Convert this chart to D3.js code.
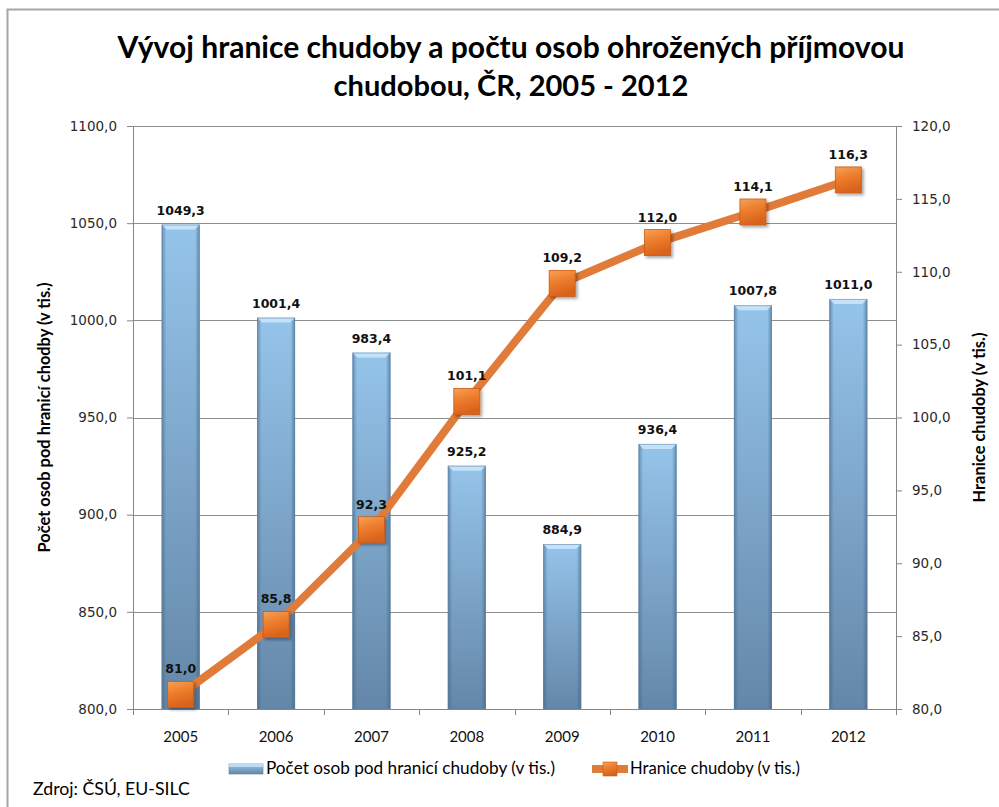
<!DOCTYPE html>
<html>
<head>
<meta charset="utf-8">
<script src="https://cdn.jsdelivr.net/npm/d3@7"></script>
<style>
  html, body { margin: 0; padding: 0; background: #fff; }
  svg { display: block; }
</style>
</head>
<body>
<svg id="chart" width="999" height="807"></svg>
<script>
// ---- data ----
const years = ["2005", "2006", "2007", "2008", "2009", "2010", "2011", "2012"];
const persons = [1049.3, 1001.4, 983.4, 925.2, 884.9, 936.4, 1007.8, 1011.0];
const threshold = [81.0, 85.8, 92.3, 101.1, 109.2, 112.0, 114.1, 116.3];
const leftTicks = [800, 850, 900, 950, 1000, 1050, 1100];
const rightTicks = [80, 85, 90, 95, 100, 105, 110, 115, 120];
const titleLines = ["Vývoj hranice chudoby a počtu osob ohrožených příjmovou", "chudobou, ČR, 2005 - 2012"];
const leftTitle = "Počet osob pod hranicí chodby (v tis.)";
const rightTitle = "Hranice chudoby (v tis.)";
const seriesNames = ["Počet osob pod hranicí chudoby (v tis.)", "Hranice chudoby (v tis.)"];
const sourceText = "Zdroj: ČSÚ, EU-SILC";

const fmt = v => d3.format(".1f")(v).replace(".", ",");

const svg = d3.select("#chart");
const W = 999, H = 807;
const plot = { left: 133, right: 896, top: 126, bottom: 709 };

const calibri = "Lato, 'Open Sans', sans-serif";
const tahoma = "'DejaVu Sans', Verdana, sans-serif";

function fit(sel, target) {
  const node = sel.node();
  const fs = parseFloat(sel.attr("font-size"));
  const w = node.getComputedTextLength();
  if (w > 0) sel.attr("font-size", (fs * target / w).toFixed(2));
  return sel;
}

// defs
const defs = svg.append("defs");
const barGrad = defs.append("linearGradient").attr("id", "barGrad").attr("x1", 0).attr("y1", 0).attr("x2", 0).attr("y2", 1);
barGrad.append("stop").attr("offset", "0%").attr("stop-color", "#95c4ea");
barGrad.append("stop").attr("offset", "100%").attr("stop-color", "#6487a8");
const barEdge = defs.append("linearGradient").attr("id", "barEdge").attr("x1", 0).attr("y1", 0).attr("x2", 1).attr("y2", 0);
barEdge.append("stop").attr("offset", "0%").attr("stop-color", "#3e5f80").attr("stop-opacity", 0.55);
barEdge.append("stop").attr("offset", "12%").attr("stop-color", "#3e5f80").attr("stop-opacity", 0.0);
barEdge.append("stop").attr("offset", "88%").attr("stop-color", "#3e5f80").attr("stop-opacity", 0.0);
barEdge.append("stop").attr("offset", "100%").attr("stop-color", "#3e5f80").attr("stop-opacity", 0.6);
const mkGrad = defs.append("linearGradient").attr("id", "mkGrad").attr("x1", 0).attr("y1", 0).attr("x2", 0.3).attr("y2", 1);
mkGrad.append("stop").attr("offset", "0%").attr("stop-color", "#f6a25a");
mkGrad.append("stop").attr("offset", "45%").attr("stop-color", "#ee7f2e");
mkGrad.append("stop").attr("offset", "100%").attr("stop-color", "#d9621b");
const shadow = defs.append("filter").attr("id", "shadow").attr("x", "-30%").attr("y", "-30%").attr("width", "170%").attr("height", "170%");
shadow.append("feDropShadow").attr("dx", 2).attr("dy", 2).attr("stdDeviation", 1.5).attr("flood-color", "#000").attr("flood-opacity", 0.35);

// outer chart border
svg.append("rect").attr("x", 7.5).attr("y", 9.5).attr("width", 1000).attr("height", 820)
  .attr("fill", "#fff").attr("stroke", "#a6a6a6").attr("stroke-width", 2);

// scales
const x = d3.scaleBand().domain(years).range([plot.left, plot.right]).paddingInner(0).paddingOuter(0);
const yL = d3.scaleLinear().domain([800, 1100]).range([plot.bottom, plot.top]);
const yR = d3.scaleLinear().domain([80, 120]).range([plot.bottom, plot.top]);

// gridlines
svg.append("g").selectAll("line").data(leftTicks.filter(t => t > 800)).join("line")
  .attr("x1", plot.left).attr("x2", plot.right)
  .attr("y1", d => Math.round(yL(d)) + 0.5).attr("y2", d => Math.round(yL(d)) + 0.5)
  .attr("stroke", "#8e8e8e").attr("stroke-width", 1);

// title
const title = svg.append("g");
titleLines.forEach((t, i) => {
  const tt = title.append("text").attr("x", 511).attr("y", 58 + i * 38)
    .attr("text-anchor", "middle").attr("font-family", calibri).attr("font-weight", "bold")
    .attr("font-size", 28).attr("fill", "#000").text(t);
  fit(tt, i === 0 ? 787 : 355);
});

// axes
const axisColor = "#868686";
const gL = svg.append("g").attr("transform", `translate(${plot.left},0)`)
  .call(d3.axisLeft(yL).tickValues(leftTicks).tickFormat(fmt).tickSizeOuter(0).tickSize(6).tickPadding(10));
const gR = svg.append("g").attr("transform", `translate(${plot.right},0)`)
  .call(d3.axisRight(yR).tickValues(rightTicks).tickFormat(fmt).tickSizeOuter(0).tickSize(6).tickPadding(10));
[gL, gR].forEach(g => {
  g.select(".domain").attr("stroke", axisColor);
  g.selectAll(".tick line").attr("stroke", axisColor);
  g.selectAll(".tick text").attr("font-family", tahoma).attr("font-size", 13.5).attr("fill", "#2a2a2a");
});
const gB = svg.append("g").attr("transform", `translate(0,${plot.bottom})`)
  .call(d3.axisBottom(x).tickSize(0).tickPadding(22).tickSizeOuter(0));
gB.select(".domain").attr("stroke", axisColor);
gB.selectAll(".tick text").attr("font-family", calibri).attr("font-size", 15).attr("fill", "#111");
// category boundary ticks
svg.append("g").selectAll("line").data(years.concat(["end"])).join("line")
  .attr("x1", (d, i) => Math.round(plot.left + i * x.step()) + 0.5)
  .attr("x2", (d, i) => Math.round(plot.left + i * x.step()) + 0.5)
  .attr("y1", plot.bottom).attr("y2", plot.bottom + 6)
  .attr("stroke", axisColor);

// bars
const bw = 38;
const bars = svg.append("g");
years.forEach((yr, i) => {
  const cx = x(yr) + x.bandwidth() / 2;
  const top = yL(persons[i]);
  const x0 = cx - bw / 2;
  const h = plot.bottom - top;
  const g = bars.append("g");
  g.append("rect").attr("x", x0).attr("y", top).attr("width", bw).attr("height", h).attr("fill", "url(#barGrad)");
  g.append("rect").attr("x", x0).attr("y", top).attr("width", bw).attr("height", h).attr("fill", "url(#barEdge)");
  // top bevel
  g.append("path").attr("d", `M${x0},${top} L${x0 + bw},${top} L${x0 + bw - 5},${top + 5} L${x0 + 5},${top + 5} Z`)
    .attr("fill", "#c9e6fb").attr("opacity", 0.9);
  g.append("rect").attr("x", x0 + 0.5).attr("y", top + 0.5).attr("width", bw - 1).attr("height", h - 1)
    .attr("fill", "none").attr("stroke", "#5d7f9f").attr("stroke-opacity", 0.5);
  bars.append("text").attr("x", cx).attr("y", top - 10).attr("text-anchor", "middle")
    .attr("font-family", tahoma).attr("font-weight", "bold").attr("font-size", 12.5).attr("fill", "#111")
    .text(fmt(persons[i]));
});

// line
const lineColor = "#e07b39";
const pts = years.map((yr, i) => [x(yr) + x.bandwidth() / 2, yR(threshold[i])]);
svg.append("path").attr("d", d3.line()(pts)).attr("fill", "none")
  .attr("stroke", lineColor).attr("stroke-width", 8).attr("stroke-linejoin", "round");
const ms = 26;
svg.append("g").selectAll("rect").data(pts).join("rect")
  .attr("x", d => d[0] - ms / 2).attr("y", d => d[1] - ms / 2).attr("width", ms).attr("height", ms)
  .attr("fill", "url(#mkGrad)").attr("stroke", "#c95a16").attr("stroke-width", 0.8).attr("filter", "url(#shadow)");
svg.append("g").selectAll("text").data(pts).join("text")
  .attr("x", d => d[0]).attr("y", d => d[1] - 21).attr("text-anchor", "middle")
  .attr("font-family", tahoma).attr("font-weight", "bold").attr("font-size", 12.5).attr("fill", "#111")
  .text((d, i) => fmt(threshold[i]));

// axis titles
const lt = svg.append("text").attr("transform", `translate(50,${(plot.top + plot.bottom) / 2}) rotate(-90)`)
  .attr("text-anchor", "middle").attr("font-family", calibri).attr("font-weight", "bold").attr("font-size", 13).attr("fill", "#000")
  .text(leftTitle);
fit(lt, 270);
const rt = svg.append("text").attr("transform", `translate(985,${(plot.top + plot.bottom) / 2}) rotate(-90)`)
  .attr("text-anchor", "middle").attr("font-family", calibri).attr("font-weight", "bold").attr("font-size", 13).attr("fill", "#000")
  .text(rightTitle);
fit(rt, 170);

// legend
const lg = svg.append("g");
const ly = 769;
lg.append("rect").attr("x", 229).attr("y", ly - 5).attr("width", 34).attr("height", 10).attr("fill", "url(#barGrad)").attr("stroke", "#5d7f9f").attr("stroke-opacity", 0.6);
lg.append("rect").attr("x", 229).attr("y", ly - 5).attr("width", 34).attr("height", 3).attr("fill", "#c9e6fb").attr("opacity", 0.8);
const l1 = lg.append("text").attr("x", 266).attr("y", ly + 5).attr("font-family", calibri).attr("font-size", 15).attr("fill", "#000").text(seriesNames[0]);
fit(l1, 289);
lg.append("line").attr("x1", 592).attr("x2", 628).attr("y1", ly).attr("y2", ly).attr("stroke", lineColor).attr("stroke-width", 8);
lg.append("rect").attr("x", 603).attr("y", ly - 7).attr("width", 14).attr("height", 14).attr("fill", "url(#mkGrad)").attr("stroke", "#c95a16").attr("stroke-width", 0.6);
const l2 = lg.append("text").attr("x", 630).attr("y", ly + 5).attr("font-family", calibri).attr("font-size", 15).attr("fill", "#000").text(seriesNames[1]);
fit(l2, 170);

// source
const src = svg.append("text").attr("x", 33).attr("y", 795).attr("font-family", calibri).attr("font-size", 16).attr("fill", "#000").text(sourceText);
fit(src, 157);
</script>
</body>
</html>
